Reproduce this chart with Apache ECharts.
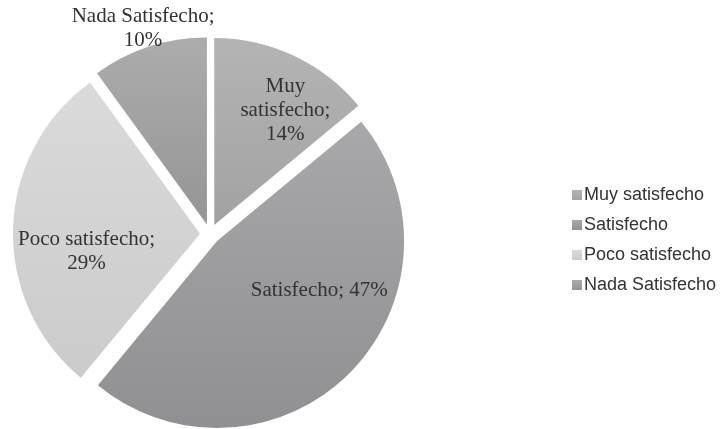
<!DOCTYPE html>
<html>
<head>
<meta charset="utf-8">
<script src="https://cdn.jsdelivr.net/npm/echarts@6/dist/echarts.min.js"></script>
<style>
  html, body { margin: 0; padding: 0; background: #fff; }
  #chart { width: 724px; height: 429px; }
</style>
</head>
<body>
<div id="chart"></div>
<script>
// datos de la encuesta
var categories = ["Muy satisfecho", "Satisfecho", "Poco satisfecho", "Nada Satisfecho"];
var percents = [14, 47, 29, 10];
var labelTexts = ["Muy\nsatisfecho;\n14%", "Satisfecho; 47%", "Poco satisfecho;\n29%", "Nada Satisfecho;\n10%"];

var topColors = ["#b4b4b5", "#a8a8aa", "#dadada", "#acacac"];
var bottomColors = ["#a2a2a3", "#909092", "#cbcbcb", "#959595"];
// desplazamiento de las etiquetas
var labelNudge = [[30, -27], [34, -19], [-17, 21], [-34, -104]];

var chart = echarts.init(document.getElementById("chart"));

var pieData = categories.map(function (name, i) {
  return {
    name: name,
    value: percents[i],
    selected: true,
    itemStyle: {
      color: new echarts.graphic.LinearGradient(0, 0, 0, 1, [
        { offset: 0, color: topColors[i] },
        { offset: 1, color: bottomColors[i] }
      ])
    },
    label: { formatter: labelTexts[i] }
  };
});

var option = {
  animation: false,
  legend: {
    orient: "vertical",
    left: 567,
    top: 181,
    itemWidth: 10,
    itemHeight: 10,
    itemGap: 12,
    icon: "rect",
    textStyle: {
      fontFamily: "Liberation Sans",
      fontSize: 18,
      color: "#333",
      padding: [0, 0, 0, -3]
    },
    data: categories
  },
  series: [
    {
      type: "pie",
      center: [210, 234],
      radius: 187,
      startAngle: 90,
      clockwise: true,
      selectedMode: "multiple",
      selectedOffset: 10,
      silent: true,
      label: {
        position: "inside",
        fontFamily: "Liberation Serif",
        fontSize: 21,
        lineHeight: 24,
        color: "#333",
        align: "center"
      },
      labelLine: { show: false },
      labelLayout: function (params) {
        var n = labelNudge[params.dataIndex];
        return { dx: n[0], dy: n[1] };
      },
      emphasis: { disabled: true },
      data: pieData
    }
  ]
};

chart.setOption(option, true);
</script>
</body>
</html>
